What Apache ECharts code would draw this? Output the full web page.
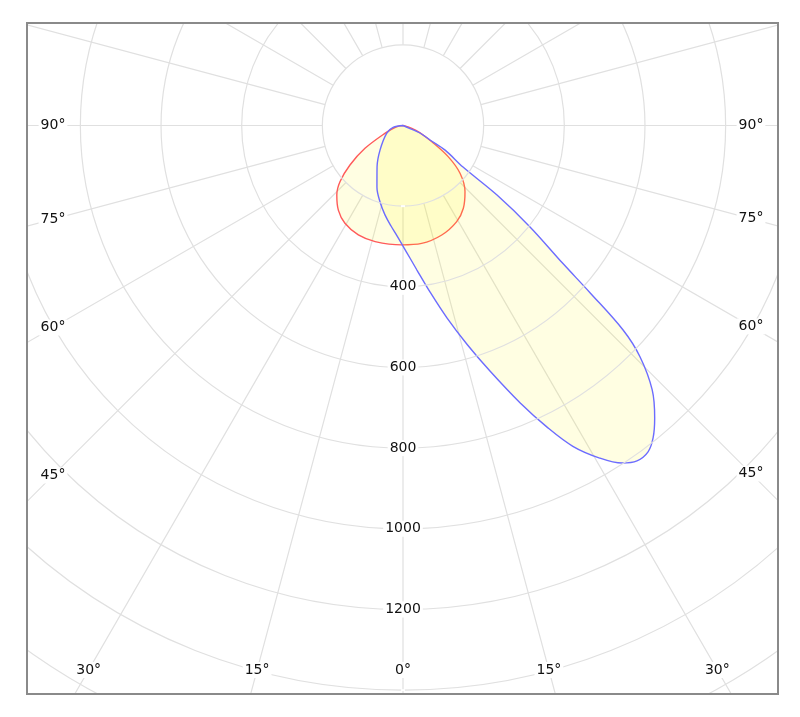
<!DOCTYPE html>
<html>
<head>
<meta charset="utf-8">
<script src="https://cdn.jsdelivr.net/npm/echarts@6/dist/echarts.min.js"></script>
<style>
  html, body { margin: 0; padding: 0; background: #fff; width: 800px; height: 717px; overflow: hidden; }
  #clip { position: absolute; left: 28px; top: 24px; width: 749px; height: 669px; overflow: hidden; }
  #chart { position: absolute; left: -28px; top: -24px; width: 800px; height: 717px; }
  #frame { position: absolute; left: 26px; top: 22px; width: 749px; height: 669px; border: 2px solid #8a8a8a; pointer-events: none; }
</style>
</head>
<body>
<div id="clip"><div id="chart"></div></div>
<div id="frame"></div>
<script>
// ---- data (angles in degrees from nadir, values in cd/klm) ----
const redAngles = [-90, -78, -66.6, -59, -53.3, -48.3, -43.6, -37.4, -30.7, -22.2, -13.5, -0.6, 9, 19.5, 29.2, 36.1, 43.1, 50, 55.4, 60.6, 67, 72, 90];
const redValues = [0, 18, 49, 110, 164, 209, 238, 264, 282, 293, 296, 296, 296, 288, 273, 254, 225, 185, 136, 82, 45, 23, 0];

const blueAngles = [-90, -78.7, -64.4, -43.2, -32.1, -22.9, -16.7, -11.4, -6.8, -3.1, 0, 3.0, 5.5, 9.2, 12.9, 16.3, 19.5, 22.9, 25.5, 27.9, 30.6, 33.0, 34.9, 36.9, 38.7, 40.7, 43.3, 45.7, 47.1, 48.2, 49.2, 51.4, 53.5, 55.3, 59.7, 61.8, 66.2, 66.8, 90];
const blueValues = [0, 25, 45, 83, 121, 166, 198, 226, 251, 274, 299, 329, 360, 418, 490, 565, 646, 747, 828, 900, 958, 998, 1014, 1012, 992, 957, 901, 821, 745, 622, 524, 403, 290, 181, 121, 76, 46, 19, 0];

const ringLabels = [400, 600, 800, 1000, 1200];
const sideLabelAngles = [90, 75, 60, 45];
const bottomLabelAngles = [30, 15, 0];

// ---- layout ----
const CX = 403, CY = 125.5;
const RADIUS_MAX = 1800, RADIUS_STEP = 200;
const PX_PER_UNIT = 0.4033;
const R_OUT = RADIUS_MAX * PX_PER_UNIT;
const R_IN = RADIUS_STEP * PX_PER_UNIT;
const LEFT_X = 53, RIGHT_X = 751, BOTTOM_Y = 670;
const FONT_FAMILY = '"DejaVu Sans", Verdana, sans-serif';
const FONT_SIZE = 14;
const FONT = FONT_SIZE + 'px ' + FONT_FAMILY;
const TEXT = '#111';
const GRID = '#e0e0e0';

const chart = echarts.init(document.getElementById('chart'), null, { renderer: 'canvas' });

function pairs(angles, values) { return angles.map((a, i) => [values[i], a]); }

// angle labels where the spokes meet an inset of the frame
const labelEls = [];
function addLabel(x, y, txt) {
  labelEls.push({
    type: 'text', x: x, y: y, z: 100,
    style: {
      text: txt, font: FONT, fill: TEXT,
      align: 'center', verticalAlign: 'middle', textAlign: 'center', textVerticalAlign: 'middle',
      backgroundColor: '#fff', padding: [1, 2]
    }
  });
}
sideLabelAngles.forEach(a => {
  const t = Math.tan(a * Math.PI / 180);
  const yl = a === 90 ? CY : CY + (CX - LEFT_X) / t;
  const yr = a === 90 ? CY : CY + (RIGHT_X - CX) / t;
  addLabel(LEFT_X, yl, a + '°');
  addLabel(RIGHT_X, yr, a + '°');
});
bottomLabelAngles.forEach(a => {
  const d = (BOTTOM_Y - CY) * Math.tan(a * Math.PI / 180);
  addLabel(CX - d, BOTTOM_Y, a + '°');
  if (a !== 0) addLabel(CX + d, BOTTOM_Y, a + '°');
});

const option = {
  animation: false,
  backgroundColor: '#fff',
  polar: [
    { center: [CX, CY], radius: [R_IN, R_OUT] },
    { center: [CX, CY], radius: R_OUT }
  ],
  angleAxis: [
    {
      polarIndex: 0, type: 'value', min: 0, max: 360, interval: 15, startAngle: -90,
      axisLine: { show: false }, axisTick: { show: false }, axisLabel: { show: false },
      splitLine: { show: true, lineStyle: { color: GRID, width: 1.2 } }
    },
    {
      polarIndex: 1, type: 'value', min: -180, max: 180, startAngle: 90, clockwise: false,
      axisLine: { show: false }, axisTick: { show: false }, axisLabel: { show: false }, splitLine: { show: false }
    }
  ],
  radiusAxis: [
    {
      polarIndex: 0, type: 'value', min: RADIUS_STEP, max: RADIUS_MAX, interval: RADIUS_STEP,
      axisLine: { show: false }, axisTick: { show: false },
      splitLine: { show: true, lineStyle: { color: GRID, width: 1.2 } },
      axisLabel: {
        show: true, margin: 0, align: 'center', verticalAlign: 'middle',
        fontFamily: FONT_FAMILY, fontSize: FONT_SIZE, color: TEXT,
        backgroundColor: '#fff', padding: [1, 2],
        formatter: v => ringLabels.indexOf(v) >= 0 ? String(v) : ''
      },
      z: 10
    },
    {
      polarIndex: 1, type: 'value', min: 0, max: RADIUS_MAX,
      axisLine: { show: false }, axisTick: { show: false }, axisLabel: { show: false }, splitLine: { show: false }
    }
  ],
  series: [
    {
      type: 'line', coordinateSystem: 'polar', polarIndex: 1,
      data: pairs(redAngles, redValues), smooth: 0.35, symbol: 'none',
      lineStyle: { color: '#ff5a5a', width: 1.4 },
      areaStyle: { color: 'rgba(255,248,0,0.16)' }, z: 3
    },
    {
      type: 'line', coordinateSystem: 'polar', polarIndex: 1,
      data: pairs(blueAngles, blueValues), smooth: 0.35, symbol: 'none',
      lineStyle: { color: '#6c6cff', width: 1.4 },
      areaStyle: { color: 'rgba(255,248,0,0.16)' }, z: 4
    }
  ],
  graphic: { elements: labelEls }
};
chart.setOption(option);
</script>
</body>
</html>
